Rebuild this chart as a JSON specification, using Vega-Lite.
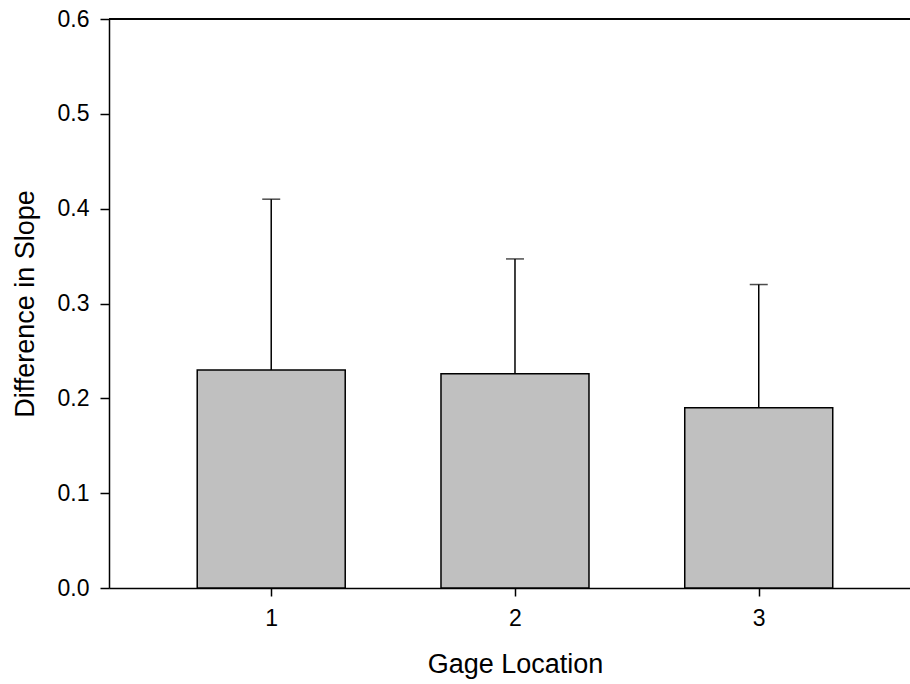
{
  "$schema": "https://vega.github.io/schema/vega-lite/v6.json",
  "autosize": "none",
  "padding": {"left": 109, "top": 19, "right": 0, "bottom": 96},
  "width": 801,
  "height": 569,
  "background": "white",
  "config": {
    "view": {"stroke": null},
    "font": "Liberation Sans"
  },
  "data": {"values": [
    {"loc": 1, "mean": 0.23, "upper": 0.41},
    {"loc": 2, "mean": 0.226, "upper": 0.347},
    {"loc": 3, "mean": 0.19, "upper": 0.32}
  ]},
  "layer": [
    {
      "mark": {"type": "bar", "size": 148, "fill": "#c0c0c0", "stroke": "black", "strokeWidth": 1.5},
      "encoding": {
        "x": {"field": "loc", "type": "quantitative", "scale": {"domain": [0.355, 3.6], "nice": false, "zero": false},
          "axis": {"values": [1, 2, 3], "format": "d", "title": "Gage Location", "grid": false, "domainColor": "black", "tickColor": "black", "labelColor": "black", "titleColor": "black", "domainWidth": 1.5, "tickWidth": 1.5, "labelFont": "Liberation Sans", "titleFont": "Liberation Sans", "titleFontWeight": "normal", "labelFontSize": 23, "titleFontSize": 27, "tickSize": 8, "labelPadding": 11, "titlePadding": 21, "titleX": 406, "titleAnchor": "middle"}},
        "y": {"field": "mean", "type": "quantitative", "scale": {"domain": [0, 0.6], "nice": false},
          "axis": {"values": [0, 0.1, 0.2, 0.3, 0.4, 0.5, 0.6], "format": ".1f", "title": "Difference in Slope", "grid": false, "domainColor": "black", "tickColor": "black", "labelColor": "black", "titleColor": "black", "domainWidth": 1.5, "tickWidth": 1.5, "labelFont": "Liberation Sans", "titleFont": "Liberation Sans", "titleFontWeight": "normal", "labelFontSize": 23, "titleFontSize": 27, "tickSize": 9, "labelPadding": 11, "titlePadding": 18}}
      }
    },
    {
      "mark": {"type": "rule", "color": "black", "strokeWidth": 1.5},
      "encoding": {
        "x": {"field": "loc", "type": "quantitative"},
        "y": {"field": "mean", "type": "quantitative"},
        "y2": {"field": "upper"}
      }
    },
    {
      "mark": {"type": "tick", "color": "black", "orient": "horizontal", "size": 18, "thickness": 1.5},
      "encoding": {
        "x": {"field": "loc", "type": "quantitative"},
        "y": {"field": "upper", "type": "quantitative"}
      }
    },
    {
      "mark": {"type": "rule", "color": "black", "strokeWidth": 1.5},
      "encoding": {
        "y": {"datum": 0.6, "type": "quantitative"}
      }
    }
  ]
}
